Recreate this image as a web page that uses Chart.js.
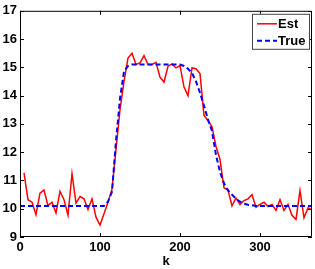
<!DOCTYPE html>
<html>
<head>
<meta charset="utf-8">
<script src="https://cdn.jsdelivr.net/npm/chart.js@4/dist/chart.umd.min.js"></script>
<style>
  html, body { margin: 0; padding: 0; background: #fff; }
  #wrap { width: 315px; height: 269px; }
</style>
</head>
<body>
<div id="wrap"><canvas id="grafico"></canvas></div>
<script>
// dados
var kVals = [0, 5, 10, 15, 20, 25, 30, 35, 40, 45, 50, 55, 60, 65, 70, 75, 80, 85, 90, 95,
  100, 105, 110, 115, 120, 125, 130, 135, 140, 145, 150, 155, 160, 165, 170, 175, 180, 185, 190, 195,
  200, 205, 210, 215, 220, 225, 230, 235, 240, 245, 250, 255, 260, 265, 270, 275, 280, 285, 290, 295,
  300, 305, 310, 315, 320, 325, 330, 335, 340, 345, 350, 355, 360, 365];
var estValues = [null, 11.27, 10.32, 10.23, 9.79, 10.55, 10.66, 10.11, 10.23, 9.85, 10.61, 10.32, 9.77, 11.24, 10.2, 10.43, 10.35, 9.97, 10.35, 9.7,
  9.42, 9.82, 10.23, 10.69, 12.1, 13.5, 14.5, 15.33, 15.5, 15.1, 15.16, 15.41, 15.1, 15.1, 15.18, 14.65, 14.48, 15.04, 15.12, 14.98,
  15.06, 14.3, 14.0, 14.98, 14.95, 14.78, 13.3, 13.12, 12.9, 12.2, 11.74, 10.74, 10.66, 10.1, 10.38, 10.15, 10.29, 10.35, 10.5, 10.05,
  10.15, 10.23, 10.08, 10.15, 9.94, 10.32, 9.94, 10.15, 9.77, 9.62, 10.64, 9.68, 10.03, 9.96];
var trueValues = [10.1, 10.1, 10.1, 10.1, 10.1, 10.1, 10.1, 10.1, 10.1, 10.1, 10.1, 10.1, 10.1, 10.1, 10.1, 10.1, 10.1, 10.1, 10.1, 10.1,
  10.1, 10.1, 10.25, 10.6, 12.4, 13.9, 14.85, 15.05, 15.1, 15.1, 15.1, 15.1, 15.1, 15.1, 15.1, 15.1, 15.1, 15.1, 15.1, 15.1,
  15.1, 15.05, 14.95, 14.8, 14.5, 14.1, 13.65, 13.15, 12.75, 11.9, 11.3, 10.9, 10.65, 10.5, 10.35, 10.25, 10.18, 10.14, 10.12, 10.1,
  10.1, 10.1, 10.1, 10.1, 10.1, 10.1, 10.1, 10.1, 10.1, 10.1, 10.1, 10.1, 10.1, 10.1];
var nomeEst = "Est";
var nomeTrue = "True";
var xTicks = [0, 100, 200, 300];
var yTicks = [9, 10, 11, 12, 13, 14, 15, 16, 17];
var nomeEixoX = "k";

var fonte = "'Liberation Sans', Arial, Helvetica, sans-serif";

function pontos(valores) {
  var out = [];
  for (var i = 0; i < kVals.length; i++) {
    if (valores[i] !== null) out.push({ x: kVals[i], y: valores[i] });
  }
  return out;
}

// caixa, marcas internas e legenda no estilo MATLAB
var estiloMatlab = {
  id: "estiloMatlab",
  afterDraw: function (chart) {
    var ctx = chart.ctx;
    var a = chart.chartArea;
    var sx = chart.scales.x, sy = chart.scales.y;
    ctx.save();
    ctx.strokeStyle = "#000";
    ctx.lineWidth = 1;
    ctx.beginPath();
    ctx.rect(a.left + 0.5, a.top + 0.5, a.right - a.left - 1, a.bottom - a.top - 1);
    xTicks.forEach(function (v) {
      var px = Math.round(sx.getPixelForValue(v)) + 0.5;
      ctx.moveTo(px, a.bottom); ctx.lineTo(px, a.bottom - 4);
      ctx.moveTo(px, a.top); ctx.lineTo(px, a.top + 4);
    });
    yTicks.forEach(function (v) {
      var py = Math.round(sy.getPixelForValue(v)) + 0.5;
      ctx.moveTo(a.left, py); ctx.lineTo(a.left + 4, py);
      ctx.moveTo(a.right, py); ctx.lineTo(a.right - 4, py);
    });
    ctx.stroke();

    // legenda
    var bx = a.right - 60, by = a.top + 3, bw = 57, bh = 35;
    ctx.fillStyle = "#fff";
    ctx.fillRect(bx, by, bw, bh);
    ctx.strokeStyle = "#444";
    ctx.strokeRect(bx + 0.5, by + 0.5, bw, bh);
    ctx.font = "bold 13px " + fonte;
    ctx.textBaseline = "middle";
    ctx.textAlign = "left";
    chart.data.datasets.forEach(function (ds, i) {
      var ly = by + 10 + i * 17;
      ctx.beginPath();
      ctx.strokeStyle = ds.borderColor;
      ctx.lineWidth = ds.borderWidth;
      ctx.setLineDash(ds.borderDash || []);
      ctx.moveTo(bx + 5, ly); ctx.lineTo(bx + 25, ly);
      ctx.stroke();
      ctx.setLineDash([]);
      ctx.fillStyle = "#000";
      ctx.fillText(ds.label, bx + 26, ly + 1);
    });
    ctx.restore();
  }
};

var grafico = new Chart(document.getElementById("grafico"), {
  type: "line",
  data: {
    datasets: [
      {
        label: nomeEst,
        data: pontos(estValues),
        borderColor: "#ff0000",
        borderWidth: 1.5,
        pointRadius: 0,
        tension: 0,
        order: 2
      },
      {
        label: nomeTrue,
        data: pontos(trueValues),
        borderColor: "#0000ff",
        borderWidth: 2,
        borderDash: [5, 3],
        pointRadius: 0,
        tension: 0,
        order: 1
      }
    ]
  },
  options: {
    responsive: true,
    maintainAspectRatio: false,
    animation: false,
    layout: { padding: { top: 7, right: 3, left: 0, bottom: 0 } },
    plugins: { legend: { display: false }, tooltip: { enabled: false } },
    scales: {
      x: {
        type: "linear",
        min: 0,
        max: 365,
        grid: { display: false, drawTicks: false },
        border: { display: false },
        afterBuildTicks: function (s) { s.ticks = xTicks.map(function (v) { return { value: v }; }); },
        afterFit: function (s) { s.height = 32; },
        ticks: { padding: 3, color: "#000", font: { family: fonte, size: 13, weight: "bold" }, maxRotation: 0 },
        title: { display: true, text: nomeEixoX, color: "#000", padding: { top: 0, bottom: 0 }, font: { family: fonte, size: 13, weight: "bold" } }
      },
      y: {
        min: 9,
        max: 17,
        grid: { display: false, drawTicks: false },
        border: { display: false },
        afterBuildTicks: function (s) { s.ticks = yTicks.map(function (v) { return { value: v }; }); },
        afterFit: function (s) { s.width = 20; },
        ticks: { padding: 3, color: "#000", font: { family: fonte, size: 13, weight: "bold" } }
      }
    }
  },
  plugins: [estiloMatlab]
});
</script>
</body>
</html>
